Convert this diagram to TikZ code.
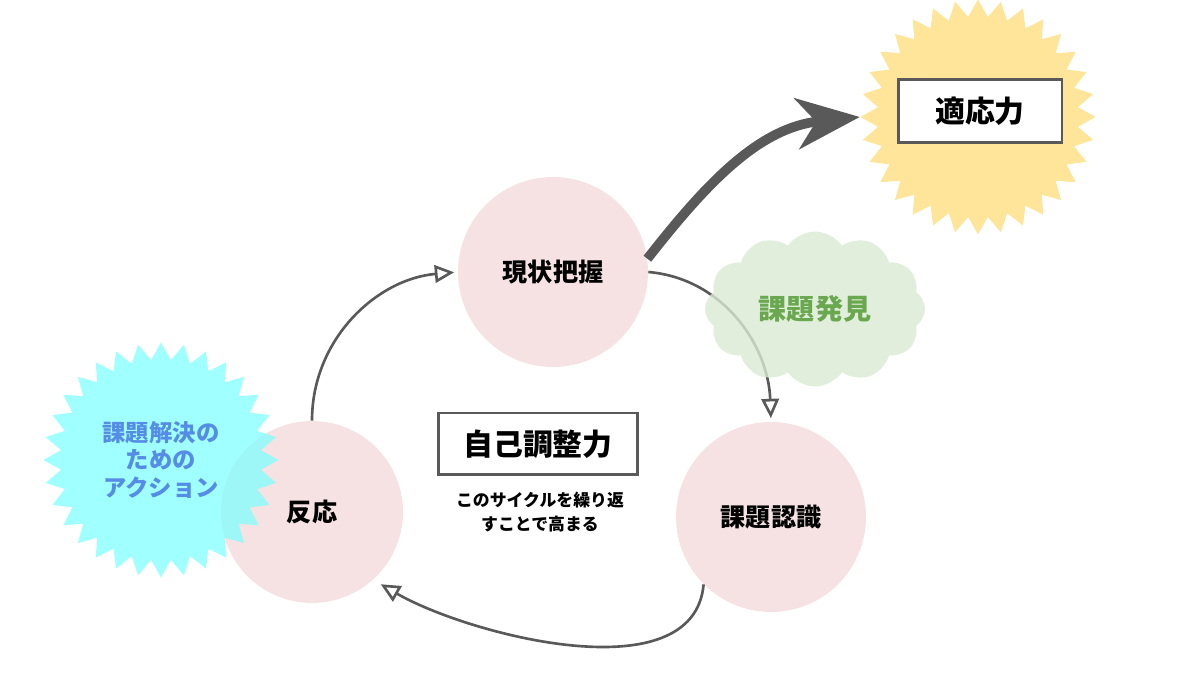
\documentclass[tikz,border=0pt]{standalone}
\usepackage{fontspec}
\setmainfont{Noto Sans CJK JP}
\usetikzlibrary{arrows.meta,shapes.symbols}

\definecolor{phasepink}{RGB}{246,226,226}
\definecolor{linegray}{RGB}{89,89,89}
\definecolor{sunyellow}{RGB}{255,229,153}
\definecolor{actioncyan}{RGB}{128,255,255}
\definecolor{actionblue}{RGB}{85,140,230}
\definecolor{cloudgreen}{RGB}{217,234,211}
\definecolor{findgreen}{RGB}{106,168,79}

\begin{document}
\begin{tikzpicture}
  [x=0.02cm,y=0.02cm,
   phase/.style={circle,fill=phasepink,minimum size=3.8cm,font=\bfseries\fontsize{14.3}{17}\selectfont},
   burst/.style={starburst,starburst points=32,starburst point height=0.34cm,random starburst=0,minimum size=4.7cm,inner sep=0pt},
   titlebox/.style={draw=linegray,line width=1.7pt,fill=white,inner sep=0pt},
   cycarrow/.style={draw=linegray,line width=1.5pt,-{Triangle[open,length=11pt,width=10pt]}}]
  \useasboundingbox (0,0) rectangle (1200,675);

  % adaptability
  \node[burst,fill=sunyellow] (sun) at (978,558) {};
  \node[titlebox,minimum width=3.28cm,minimum height=1.26cm,font=\bfseries\fontsize{17}{20}\selectfont] (adapt) at (980,564) {適応力};

  % the cycle
  \node[phase] (gen) at (553,403) {現状把握};
  \node[phase] (rec) at (771,158) {課題認識};
  \node[phase,minimum size=3.64cm] (resp) at (312,163) {反応};

  \node[titlebox,minimum width=4cm,minimum height=1.24cm,font=\bfseries\fontsize{17}{20}\selectfont] (self) at (538,231) {自己調整力};
  \node[align=center,font=\bfseries\fontsize{9.6}{13.6}\selectfont] (note) at (540,163) {このサイクルを繰り返\\すことで高まる};

  \foreach \from/\to/\o/\i/\s/\l in {resp.north/gen.west/90/185/2pt/1,gen.east/rec.north/-5/92/2pt/1,rec.225/resp.-48/-95/-30/5pt/0.85}
    \draw[cycarrow,shorten >=\s] (\from) to[out=\o,in=\i,looseness=\l] (\to);

  \draw[linegray,line width=5.5pt,-{Stealth[length=36pt,width=29pt,inset=11pt]}] (gen.8) to[out=52,in=186] (sun.west);

  % findings and actions
  \node[cloud,cloud puffs=12,cloud puff arc=110,aspect=1.4,fill=cloudgreen,fill opacity=0.8,text opacity=1,
        minimum width=4.4cm,minimum height=3.1cm,text=findgreen,font=\bfseries\fontsize{16}{19}\selectfont] (find) at (815,366) {課題発見};
  \node[burst,fill=actioncyan,fill opacity=0.75,text opacity=1,align=center,text=actionblue,
        font=\bfseries\fontsize{13.3}{15.6}\selectfont] (action) at (161,215) {課題解決の\\ための\\アクション};
\end{tikzpicture}
\end{document}
